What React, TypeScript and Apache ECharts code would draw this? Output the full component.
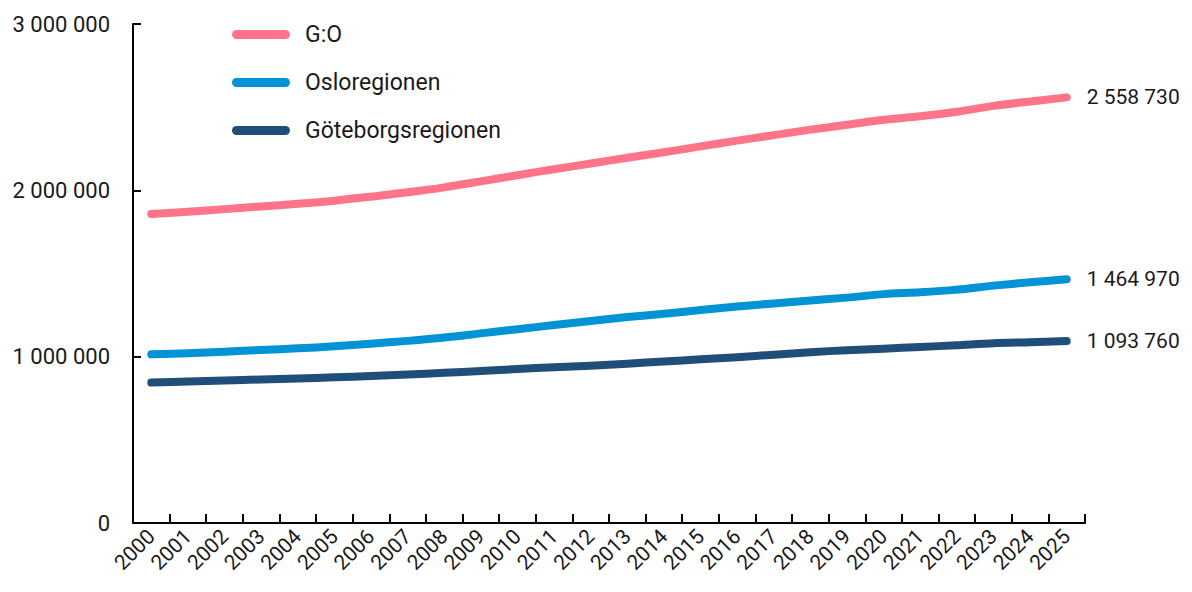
import React, { useEffect, useRef } from "react";
import * as echarts from "echarts";

const years = [
  "2000","2001","2002","2003","2004","2005","2006","2007","2008","2009","2010","2011","2012",
  "2013","2014","2015","2016","2017","2018","2019","2020","2021","2022","2023","2024","2025",
];

const goValues = [
  1858000, 1871000, 1887000, 1903000, 1919000, 1938000, 1962000, 1988000, 2018000, 2054000,
  2091000, 2127000, 2161000, 2196000, 2229000, 2264000, 2299000, 2332000, 2365000, 2394000,
  2424000, 2445000, 2472000, 2508000, 2534000, 2558730,
];

const osloValues = [
  1014000, 1020000, 1030000, 1040000, 1050000, 1062000, 1078000, 1095000, 1115000, 1140000,
  1165000, 1190000, 1215000, 1238000, 1258000, 1280000, 1302000, 1320000, 1338000, 1355000,
  1376000, 1387000, 1403000, 1427000, 1447000, 1464970,
];

const gbgValues = [
  844000, 851000, 857000, 863000, 869000, 876000, 884000, 893000, 903000, 914000,
  926000, 937000, 946000, 958000, 971000, 984000, 997000, 1012000, 1027000, 1039000,
  1048000, 1058000, 1069000, 1081000, 1087000, 1093760,
];

const seriesNames = ["G:O", "Osloregionen", "Göteborgsregionen"];
const seriesColors = ["#ff7489", "#0093d6", "#1f4e79"];
const yTicks = [0, 1000000, 2000000, 3000000];

const fmt = (v: number) =>
  Math.round(v)
    .toString()
    .replace(/\B(?=(\d{3})+(?!\d))/g, " ");

const FONT = "Roboto";
const TEXT = "#1a1a1a";

export default function App() {
  const ref = useRef<HTMLDivElement>(null);

  useEffect(() => {
    if (!ref.current) return;
    const chart = echarts.init(ref.current, undefined, { renderer: "svg" });
    const data = [goValues, osloValues, gbgValues];
    chart.setOption({
      animation: false,
      textStyle: { fontFamily: FONT, color: TEXT },
      grid: { left: 133, right: 107, top: 24, bottom: 69, containLabel: false },
      legend: {
        orient: "vertical",
        left: 232,
        top: 23,
        padding: 0,
        itemWidth: 58,
        itemHeight: 9,
        itemGap: 25,
        icon: "path://M4.5,0 H53.5 A4.5,4.5 0 0 1 53.5,9 H4.5 A4.5,4.5 0 0 1 4.5,0 Z",
        textStyle: {
          fontFamily: FONT,
          fontSize: 23,
          lineHeight: 20,
          color: TEXT,
          padding: [0, 0, 0, 10],
        },
        data: seriesNames,
      },
      xAxis: {
        type: "category",
        data: years,
        boundaryGap: true,
        axisLine: { show: true, lineStyle: { color: "#000", width: 2 } },
        axisTick: {
          show: true,
          inside: true,
          length: 9,
          alignWithLabel: false,
          interval: 0,
          lineStyle: { color: "#000", width: 2 },
        },
        axisLabel: {
          rotate: 45,
          interval: 0,
          fontFamily: FONT,
          fontSize: 21,
          color: TEXT,
          margin: 10,
        },
        splitLine: { show: false },
      },
      yAxis: {
        type: "value",
        min: 0,
        max: 3000000,
        interval: 1000000,
        axisLine: { show: true, lineStyle: { color: "#000", width: 2 } },
        axisTick: { show: true, inside: true, length: 8, lineStyle: { color: "#000", width: 2 } },
        axisLabel: {
          fontFamily: FONT,
          fontSize: 22,
          color: TEXT,
          margin: 23,
          formatter: (v: number) => (yTicks.includes(v) ? fmt(v) : ""),
        },
        splitLine: { show: false },
      },
      series: seriesNames.map((name, i) => ({
        name,
        type: "line",
        data: data[i],
        smooth: 0.3,
        showSymbol: false,
        symbol: "none",
        color: seriesColors[i],
        lineStyle: { width: 8, color: seriesColors[i], cap: "round", join: "round" },
        endLabel: {
          show: true,
          distance: 20,
          fontFamily: FONT,
          fontSize: 21,
          color: TEXT,
          formatter: (p: any) => fmt(p.value),
        },
      })),
    });
    return () => chart.dispose();
  }, []);

  return <div ref={ref} style={{ width: 1192, height: 592, margin: -8 }} />;
}
